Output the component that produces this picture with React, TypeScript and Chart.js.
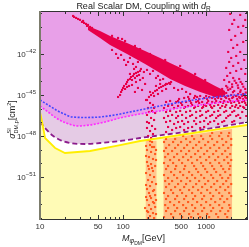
import { useEffect, useRef } from 'react';
import { Chart, registerables } from 'chart.js';

Chart.register(...registerables);

type P = [number, number];

// ---------- axes ----------
const X_RANGE: P = [10, 3100];
const Y_RANGE: P = [8.5e-55, 1.17e-39];
const xTickValues = [10, 50, 100, 500, 1000];
const xMinorValues = [20, 30, 40, 60, 70, 80, 90, 200, 300, 400, 600, 700, 800, 900, 2000, 3000];
const yLabelExponents = [-51, -48, -45, -42];
const yMinorExponents = [-54, -53, -52, -50, -49, -47, -46, -44, -43, -41, -40, -39];

// ---------- exclusion / limit curves [M (GeV), sigma (cm^2)] ----------
const blueLimit: P[] = [[10, 4.3e-46], [12.5, 1.86e-46], [15.6, 8e-47], [19.5, 4.08e-47], [24.3, 2.46e-47], [34.8, 2.27e-47], [52.8, 2.46e-47], [80, 3.45e-47], [121, 5.7e-47], [184, 9.5e-47], [368, 2.19e-46], [847, 5.1e-46], [1694, 8.45e-46], [3119, 1.18e-45]];
const magentaLimit: P[] = [[10, 1.57e-46], [12.5, 5.7e-47], [15.6, 2.08e-47], [20.6, 8.9e-48], [28.7, 5.4e-48], [40, 6.4e-48], [60.6, 1.06e-47], [92, 2.08e-47], [160, 4.08e-47], [279, 6.8e-47], [486, 1.12e-46], [847, 1.86e-46], [1694, 3.07e-46], [3119, 4.3e-46]];
const dashedLimit: P[] = [[10, 1.06e-47], [11.5, 3.85e-48], [13.9, 1.18e-48], [17.4, 5.1e-49], [23, 3.07e-49], [34.8, 2.6e-49], [52.8, 3.07e-49], [92, 4.3e-49], [160, 7.14e-49], [368, 1.4e-48], [847, 2.75e-48], [1694, 5.4e-48], [3119, 1.06e-47]];
const neutrinoFloor: P[] = [[10, 5.7e-47], [10.6, 1.06e-47], [11.5, 7.14e-49], [15.2, 1.33e-49], [20, 5.7e-50], [40, 8e-50], [92, 2.19e-49], [160, 4.3e-49], [486, 1.18e-48], [1475, 3.26e-48], [3119, 6.4e-48]];

// ---------- dense red band (upper / lower edge) ----------
const bandMass = [37.8, 52.8, 69.7, 111.6, 184, 279, 368, 558, 847, 1284, 1694];
const bandUpper = [1.12e-40, 4.8e-41, 2.08e-41, 6.4e-42, 1.66e-42, 5.1e-43, 2.2e-43, 6.8e-44, 1.75e-44, 4.56e-45, 1.96e-45];
const bandLower = [5.7e-41, 1.48e-41, 4.56e-42, 1e-42, 1.86e-43, 4.08e-44, 1.48e-44, 4.56e-45, 1.66e-45, 7.14e-46, 7.14e-46];

// ---------- red scan points ----------
const redTip: P[] = [[25, 6e-40], [25.7, 5.1e-40], [27.2, 4.3e-40], [28.7, 3.6e-40], [30.3, 3.1e-40], [33, 2.6e-40], [32, 2.2e-40], [33.9, 1.85e-40], [35.8, 1.57e-40], [36.8, 1.12e-40], [37.8, 1.33e-40], [40, 9.5e-41], [42.3, 8e-41], [46, 4.8e-41], [48.5, 3.45e-41]];
const redAround: P[] = [[73.6, 2.1e-41], [87, 1.48e-41], [97.2, 1.25e-41], [105.6, 8.9e-42], [139, 3.85e-42], [160, 2.3e-42], [211, 1e-42], [321, 3.64e-43], [486, 1.33e-43], [736, 3.45e-44], [972, 1.25e-44],
  [73.6, 1.96e-42], [82.3, 1e-42], [87, 5.1e-43], [94.6, 8.45e-43], [102.7, 3.64e-43], [114.8, 2.6e-43], [121, 5.1e-43], [131.7, 1.86e-43], [143, 1.12e-43], [151, 2.6e-43], [164, 8e-44], [178, 4.8e-44], [194, 6.8e-44], [211, 3.45e-44], [229, 5.7e-44], [249, 1.75e-44], [279, 1.25e-44], [303, 1.48e-44], [329, 6.4e-45], [368, 6.4e-45], [411, 3.26e-45], [459, 2.32e-45], [513, 2.75e-45], [573, 1.66e-45], [641, 1.18e-45], [736, 8.45e-46], [108.6, 1.57e-43], [135.5, 8e-44], [263, 2.46e-44]];
const redBranchA: P[] = [[87, 7.14e-46], [92, 1e-45], [94.6, 1.66e-45], [97.2, 2.32e-45], [100, 3.26e-45], [102.7, 4.56e-45], [108.6, 6.4e-45], [111.6, 8.9e-45], [114.8, 1.25e-44], [121, 1.48e-44], [124.5, 2.08e-44], [131.7, 2.46e-44], [135.5, 3.45e-44], [143, 4.08e-44], [151, 4.8e-44], [160, 5.7e-44], [105.6, 2.75e-45], [117.8, 4.56e-45], [128, 1.25e-44], [139, 1.75e-44], [147, 2.46e-44], [155.5, 2.9e-44], [121, 3.45e-44], [111.6, 3.85e-45], [128, 5.4e-45], [143, 8.9e-45], [160, 1.25e-44], [173, 1.75e-44], [184, 6.4e-45], [151, 3.26e-45], [169, 2.32e-45], [139, 1.66e-45]];
const redBranchB: P[] = [[194, 4.3e-46], [205, 7.14e-46], [217, 1e-45], [229, 1.4e-45], [243, 1.96e-45], [256, 2.32e-45], [271, 3.26e-45], [287, 3.85e-45], [303, 4.56e-45], [321, 5.4e-45], [339, 6.4e-45], [358, 7.56e-45], [378, 8.9e-45], [211, 1.66e-45], [236, 8.45e-46], [263, 1.18e-45], [295, 1.96e-45], [329, 2.75e-45], [249, 4.56e-45], [279, 6.4e-45]];
const redStrip: P[] = [[189, 4.3e-46], [211, 2.6e-46], [229, 1.86e-46], [200, 1.12e-46], [223, 6.8e-47], [243, 4.8e-47], [194, 3.45e-47], [217, 2.08e-47], [236, 1.48e-47], [205, 8.9e-48], [223, 5.4e-48], [194, 3.85e-48], [243, 3.26e-48], [211, 2.32e-48], [229, 1.4e-48], [200, 1e-48], [217, 7.14e-49], [205, 5.7e-47], [236, 1.12e-46], [194, 1.06e-47]];
const redPlume: P[] = [[1946, 8.45e-40], [2568, 7.14e-40], [2950, 3.07e-40], [2057, 1.57e-40], [2430, 9.5e-41], [1892, 5.7e-41], [2640, 3.45e-41], [2235, 2.08e-41], [2000, 1.06e-41], [2790, 7.56e-42], [2363, 4.56e-42], [2114, 2.75e-42], [1841, 1.4e-42], [2568, 1.4e-42], [2298, 7.14e-43], [2000, 5.1e-43], [2870, 3.64e-43], [1892, 2.6e-43], [2430, 2.2e-43], [2114, 1.33e-43], [1741, 9.5e-44], [2640, 8e-44], [2298, 5.7e-44], [1946, 4.08e-44], [2950, 3.45e-44], [1790, 2.46e-44], [2114, 1.75e-44], [2497, 1.48e-44], [1647, 1.25e-44], [1892, 8.9e-45], [2298, 7.56e-45], [2715, 6.4e-45], [1741, 4.56e-45], [2057, 3.85e-45], [2430, 3.26e-45], [1558, 2.75e-45], [2950, 2.75e-45], [1841, 2.32e-45], [2174, 1.96e-45], [1475, 1.66e-45], [2568, 1.66e-45], [1357, 1.18e-45], [1741, 1.4e-45], [2790, 1.18e-45], [2000, 1e-45], [2298, 8.45e-46], [2174, 3.07e-40], [2790, 1.12e-40],
  [1400, 2e-45], [1600, 1e-45], [2100, 1.6e-45], [2600, 2.2e-45], [3000, 1.5e-45], [1950, 2.8e-45], [2400, 5e-45], [2800, 4e-45], [2200, 1.1e-44], [2600, 9e-45], [2050, 6e-45], [1800, 3.5e-45]];

// rows of red points between the direct-detection curves
const redLowSigma = [1.18e-45, 8.45e-46, 7.14e-46, 6.03e-46, 5.1e-46, 3.64e-46, 3.07e-46, 2.6e-46, 1.86e-46, 1.57e-46, 1.33e-46, 1.12e-46, 6.8e-47, 5.7e-47, 3.45e-47, 2.9e-47, 2.08e-47, 1.25e-47, 1.06e-47, 7.56e-48, 4.56e-48, 3.85e-48, 2.75e-48, 1.96e-48];
const redLowMasses = [
  [1117, 1647, 2430],
  [847, 999, 1248, 1558, 1841, 2298, 2715],
  [606, 778, 1086, 1357, 1694, 2114, 2497, 2950],
  [543, 716, 945, 1180, 1394, 1741, 2057, 2568, 3034],
  [472, 623, 823, 1027, 1284, 1516, 1892, 2363, 2790],
  [368, 459, 641, 800, 1057, 1319, 1647, 1946, 2430, 2870],
  [329, 435, 573, 757, 894, 1180, 1475, 1841, 2174, 2715],
  [499, 659, 823, 1027, 1284, 1602, 2000, 2497, 2950],
  [389, 513, 677, 945, 1117, 1394, 1741, 2298, 3034],
  [348, 459, 606, 800, 999, 1248, 1558, 2057, 2568],
  [558, 736, 919, 1148, 1694, 2235, 2790],
  [311, 411, 543, 716, 894, 1180, 1475, 1946, 2430, 2870],
  [368, 486, 641, 847, 1057, 1394, 1741, 2174],
  [329, 435, 573, 757, 999, 1248, 1647, 2057, 2715],
  [389, 513, 677, 894, 1180, 1475, 1946, 2430],
  [348, 459, 641, 847, 1117, 1394, 1841, 2298, 3034],
  [311, 435, 573, 757, 999, 1319, 1741, 2568],
  [368, 513, 716, 945, 1248, 1647, 2174],
  [329, 459, 606, 847, 1117, 1558, 2057],
  [411, 543, 757, 1057, 1394],
  [348, 486, 677, 945],
  [435, 606, 847],
  [389, 543],
  [329],
];

// ---------- orange points below the neutrino floor ----------
const orangeBlockTop: P[] = [[305, 6e-49], [486, 9e-49], [847, 1.5e-48], [1475, 2.5e-48], [2060, 3.2e-48]];
const orangeStripTop: P[] = [[186, 4.5e-49], [254, 4.5e-49]];
const orangeRowSigma = [1.66e-48, 1e-48, 6.03e-49, 3.64e-49, 2.19e-49, 1.33e-49, 8e-50, 4.8e-50, 2.9e-50, 1.75e-50, 1.06e-50, 6.4e-51, 3.85e-51, 2.32e-51, 1.4e-51, 8.45e-52, 5.1e-52, 3.07e-52, 1.86e-52, 1.12e-52, 6.8e-53, 4.08e-53, 2.46e-53, 1.48e-53, 8.9e-54, 5.4e-54, 3.26e-54, 1.96e-54, 1.18e-54];
const orangeRowMasses = [
  [1180, 1516, 1892],
  [528, 677, 870, 1117, 1434, 1841],
  [329, 423, 573, 716, 919, 1180, 1558, 2000],
  [311, 400, 499, 641, 823, 1057, 1357, 1741],
  [358, 459, 589, 757, 972, 1248, 1602, 2000],
  [329, 423, 543, 696, 870, 1117, 1434, 1841],
  [311, 389, 499, 623, 800, 1027, 1319, 1694],
  [348, 447, 573, 736, 945, 1213, 1558, 1946],
  [321, 411, 528, 659, 847, 1086, 1394, 1790],
  [368, 472, 606, 778, 999, 1284, 1647, 2000],
  [311, 400, 513, 677, 870, 1117, 1434, 1841],
  [348, 435, 558, 716, 919, 1180, 1516, 1946],
  [329, 423, 543, 757, 972, 1248, 1602, 1892],
  [378, 486, 623, 800, 1027, 1319, 1694],
  [311, 411, 528, 677, 870, 1148, 1475, 1946],
  [348, 447, 589, 736, 945, 1213, 1558, 1841],
  [321, 389, 499, 641, 823, 1057, 1357, 1741],
  [358, 459, 573, 757, 972, 1248, 1602, 2000],
  [329, 423, 543, 696, 894, 1148, 1475, 1841],
  [378, 486, 623, 800, 1027, 1319, 1694],
  [311, 400, 513, 677, 870, 1117, 1434, 1892],
  [348, 447, 573, 736, 945, 1213, 1558, 2000],
  [329, 423, 543, 696, 894, 1148, 1475, 1790],
  [368, 472, 606, 778, 999, 1284, 1647],
  [321, 411, 528, 677, 870, 1117, 1434, 1892],
  [348, 447, 573, 736, 945, 1213, 1558, 1946],
  [329, 423, 543, 696, 894, 1148, 1475, 1841],
  [378, 486, 623, 800, 1027, 1319, 1694],
  [311, 400, 513, 659, 847, 1086, 1394, 1790],
];
const orangeStrip: P[] = [[200, 5.1e-49], [223, 3.64e-49], [211, 2.19e-49], [236, 1.57e-49], [194, 9.5e-50], [217, 6.8e-50], [243, 4.8e-50], [205, 2.9e-50], [229, 2.08e-50], [194, 1.25e-50], [217, 8.9e-51], [243, 6.4e-51], [205, 3.85e-51], [229, 2.75e-51], [189, 1.96e-51], [211, 1.4e-51], [236, 1e-51], [200, 6.03e-52], [223, 4.3e-52], [249, 3.07e-52], [211, 2.19e-52], [194, 1.33e-52], [229, 9.5e-53], [205, 6.8e-53], [243, 4.8e-53], [217, 2.9e-53], [194, 2.08e-53], [229, 1.48e-53], [205, 8.9e-54], [243, 6.4e-54], [217, 4.56e-54], [194, 3.26e-54], [229, 2.32e-54], [211, 1.4e-54], [200, 1e-54], [236, 1e-54], [189, 3.45e-50], [249, 1.75e-50], [189, 2.6e-52], [249, 2.08e-53], [184, 5.4e-54], [223, 1.57e-49], [200, 6.4e-51], [211, 4.08e-53], [236, 1.12e-52], [211, 4.3e-49], [189, 1.86e-49], [249, 9.5e-50], [223, 4.56e-51], [189, 3.45e-53], [236, 1.25e-53], [200, 2.75e-54], [249, 1.96e-54]];

// ---------- styles ----------
const PINK = '#e8a0e8';
const LAVENDER = '#e5cbe5';
const PALE_YELLOW = '#fffbb6';
const RED = '#e8004a';
const ORANGE = '#ff5a1e';
const ORANGE_FILL = '#ffbc84';
const STRIP_FILL = '#ffc790';
const FONT = '"Liberation Sans", Arial, sans-serif';

const pts = (a: P[]) => a.map(([x, y]) => ({ x, y }));
const rows = (sig: number[], ms: number[][]) => ms.flatMap((r, i) => r.map((m) => ({ x: m, y: sig[i] })));

type Seg = { t: string; s: number; dy?: number; it?: boolean; adv?: boolean };
function setFont(ctx: CanvasRenderingContext2D, s: number, it?: boolean) {
  ctx.font = `${it ? 'italic ' : ''}${s}px ${FONT}`;
}
function segWidth(ctx: CanvasRenderingContext2D, segs: Seg[]) {
  let w = 0;
  for (const g of segs) { setFont(ctx, g.s, g.it); if (g.adv !== false) w += ctx.measureText(g.t).width; }
  return w;
}
function drawSegs(ctx: CanvasRenderingContext2D, segs: Seg[], x: number, y: number) {
  let cx = x;
  for (const g of segs) {
    setFont(ctx, g.s, g.it);
    ctx.fillText(g.t, cx, y + (g.dy || 0));
    if (g.adv !== false) cx += ctx.measureText(g.t).width;
  }
}

const framePlugin = {
  id: 'framePlugin',
  beforeDraw(chart: any) {
    const { ctx, chartArea: a } = chart;
    ctx.save();
    ctx.fillStyle = '#ffffff';
    ctx.fillRect(0, 0, chart.width, chart.height);
    ctx.fillStyle = PINK;
    ctx.fillRect(a.left, a.top, a.right - a.left, a.bottom - a.top);
    ctx.restore();
  },
  afterDraw(chart: any) {
    const { ctx, chartArea: a, scales } = chart;
    const xs = scales.x, ys = scales.y;
    ctx.save();
    ctx.strokeStyle = '#333';
    ctx.lineWidth = 1;
    const tx = (v: number, len: number) => {
      const p = Math.round(xs.getPixelForValue(v)) + 0.5;
      ctx.beginPath();
      ctx.moveTo(p, a.bottom); ctx.lineTo(p, a.bottom - len);
      ctx.moveTo(p, a.top); ctx.lineTo(p, a.top + len);
      ctx.stroke();
    };
    const ty = (v: number, len: number) => {
      const p = Math.round(ys.getPixelForValue(v)) + 0.5;
      ctx.beginPath();
      ctx.moveTo(a.left, p); ctx.lineTo(a.left + len, p);
      ctx.moveTo(a.right, p); ctx.lineTo(a.right - len, p);
      ctx.stroke();
    };
    xTickValues.forEach((v) => tx(v, 4));
    xMinorValues.forEach((v) => tx(v, 2));
    yLabelExponents.forEach((e) => ty(Math.pow(10, e), 4));
    yMinorExponents.forEach((e) => ty(Math.pow(10, e), 2));

    // frame
    ctx.fillStyle = '#333';
    ctx.fillRect(a.left, a.top - 1, a.right - a.left + 1, 1);
    ctx.fillRect(a.left, a.bottom, a.right - a.left + 1, 1);
    ctx.fillRect(a.right, a.top - 1, 1, a.bottom - a.top + 2);
    ctx.fillStyle = '#7c7c6c';
    ctx.fillRect(a.left - 1, a.top - 1, 2, a.bottom - a.top + 2);

    // tick labels
    ctx.fillStyle = '#333';
    ctx.textBaseline = 'alphabetic';
    ctx.textAlign = 'left';
    xTickValues.forEach((v) => {
      const segs: Seg[] = [{ t: String(v), s: 8 }];
      const w = segWidth(ctx, segs);
      drawSegs(ctx, segs, xs.getPixelForValue(v) - w / 2, 229);
    });
    yLabelExponents.forEach((e) => {
      const segs: Seg[] = [{ t: '10', s: 8 }, { t: '\u2212' + String(-e), s: 6, dy: -4 }];
      const w = segWidth(ctx, segs);
      drawSegs(ctx, segs, 36 - w, ys.getPixelForValue(Math.pow(10, e)) + 3);
    });

    // title
    ctx.fillStyle = '#222';
    const tSegs: Seg[] = [{ t: 'Real Scalar DM, Coupling with ', s: 9 }, { t: 'd', s: 9, it: true }, { t: 'R', s: 6.5, dy: 2 }];
    const cx = (a.left + a.right) / 2;
    drawSegs(ctx, tSegs, cx - segWidth(ctx, tSegs) / 2, 8.5);

    // x title
    const xSegs: Seg[] = [{ t: 'M', s: 9, it: true }, { t: '\u03c6', s: 7, dy: 2, it: true }, { t: 'DM', s: 5, dy: 4 }, { t: '[GeV]', s: 9 }];
    drawSegs(ctx, xSegs, cx - segWidth(ctx, xSegs) / 2, 241);

    // y title (rotated)
    const ySegs: Seg[] = [{ t: '\u03c3', s: 9, it: true }, { t: 'SI', s: 5.5, dy: -4.5, adv: false }, { t: 'DM,p', s: 5.5, dy: 2.5 }, { t: '[cm', s: 9 }, { t: '2', s: 5.5, dy: -4 }, { t: ']', s: 9 }];
    const yw = segWidth(ctx, ySegs);
    ctx.translate(15, (a.top + a.bottom) / 2 + 4);
    ctx.rotate(-Math.PI / 2);
    drawSegs(ctx, ySegs, -yw / 2, 0);
    ctx.restore();
  },
};

export default function App() {
  const ref = useRef<HTMLCanvasElement>(null);
  useEffect(() => {
    const canvas = ref.current;
    if (!canvas) return;
    const noPts = { pointRadius: 0, pointHoverRadius: 0, pointHitRadius: 0 };
    const fillDs = (data: P[], color: string, order: number, smooth: boolean) => ({
      data: pts(data), fill: 'start', backgroundColor: color, borderWidth: 0, order,
      cubicInterpolationMode: smooth ? 'monotone' : 'default', tension: smooth ? 0.4 : 0, ...noPts,
    });
    const lineDs = (data: P[], color: string, order: number, dash: number[], smooth: boolean, w: number) => ({
      data: pts(data), fill: false, borderColor: color, borderWidth: w, borderDash: dash, order,
      cubicInterpolationMode: smooth ? 'monotone' : 'default', tension: smooth ? 0.4 : 0, ...noPts,
    });
    const dotDs = (data: any[], color: string, order: number) => ({
      data, showLine: false, pointStyle: 'rect', pointRadius: 1.5, pointHoverRadius: 1.5, pointBorderWidth: 0,
      pointBackgroundColor: color, pointBorderColor: color, borderWidth: 0, order,
    });
    const band = (ys: number[]) => bandMass.map((m, i) => ({ x: m, y: ys[i] }));

    const datasets: any[] = [
      fillDs(magentaLimit, LAVENDER, 40, true),
      fillDs(dashedLimit, '#ffffff', 39, true),
      fillDs(neutrinoFloor, PALE_YELLOW, 38, false),
      fillDs(orangeBlockTop, ORANGE_FILL, 37, false),
      fillDs(orangeStripTop, STRIP_FILL, 37, false),
      dotDs(rows(orangeRowSigma, orangeRowMasses), ORANGE, 36),
      dotDs(pts(orangeStrip), ORANGE, 36),
      { data: band(bandUpper), fill: '+1', backgroundColor: RED, borderWidth: 0, order: 35, tension: 0, ...noPts },
      { data: band(bandLower), fill: false, borderWidth: 0, order: 35, tension: 0, ...noPts },
      dotDs(pts([...redTip, ...redAround, ...redBranchA, ...redBranchB, ...redStrip, ...redPlume]), RED, 34),
      dotDs(rows(redLowSigma, redLowMasses), RED, 34),
      lineDs(blueLimit, '#4646ff', 4, [2, 1.5], true, 1.6),
      lineDs(magentaLimit, '#ff2cff', 3, [2, 1.5], true, 1.6),
      lineDs(dashedLimit, '#8c1c8c', 2, [5, 3], true, 1.8),
      lineDs(neutrinoFloor, '#ffee00', 1, [], false, 1.8),
    ];

    const chart = new Chart(canvas, {
      type: 'line',
      data: { datasets },
      options: {
        responsive: false,
        animation: false,
        devicePixelRatio: 1,
        events: [],
        layout: { padding: { left: 40, right: 2, top: 12, bottom: 28 } },
        scales: {
          x: { type: 'logarithmic', min: X_RANGE[0], max: X_RANGE[1], display: false },
          y: { type: 'logarithmic', min: Y_RANGE[0], max: Y_RANGE[1], display: false },
        },
        plugins: { legend: { display: false }, tooltip: { enabled: false } },
      },
      plugins: [framePlugin],
    } as any);
    return () => chart.destroy();
  }, []);
  return (
    <div style={{ position: 'absolute', left: 0, top: 0, width: 249, height: 247 }}>
      <canvas ref={ref} width={249} height={247} style={{ display: 'block', width: 249, height: 247 }} />
    </div>
  );
}
